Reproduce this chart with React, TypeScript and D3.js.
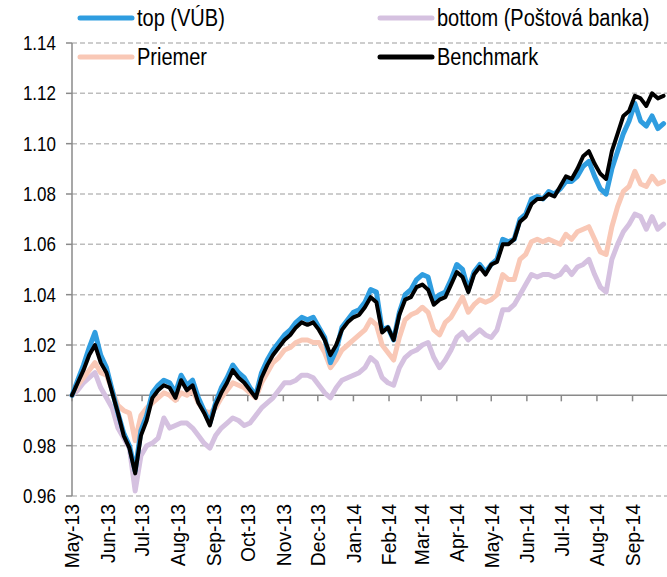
import React from "react";
import * as d3 from "d3";

// sampling: every 5 days from 1 May 2013
const dates = d3.timeDay.range(new Date(2013, 4, 1), new Date(2014, 8, 30), 5);

const topVub = [
  1.000, 1.006, 1.012, 1.019, 1.025, 1.016, 1.011, 1.002, 0.993, 0.985,
  0.980, 0.970, 0.986, 0.992, 1.001, 1.004, 1.006, 1.005, 1.001, 1.008,
  1.004, 1.006, 0.999, 0.994, 0.989, 0.997, 1.003, 1.007, 1.012, 1.009,
  1.007, 1.003, 1.000, 1.009, 1.014, 1.018, 1.021, 1.024, 1.026, 1.029,
  1.031, 1.030, 1.031, 1.027, 1.023, 1.013, 1.018, 1.027, 1.030, 1.033,
  1.034, 1.037, 1.042, 1.041, 1.026, 1.027, 1.022, 1.033, 1.040, 1.042,
  1.046, 1.048, 1.047, 1.038, 1.040, 1.041, 1.046, 1.052, 1.050, 1.042,
  1.049, 1.052, 1.049, 1.052, 1.054, 1.062, 1.061, 1.062, 1.070, 1.072,
  1.078, 1.079, 1.078, 1.081, 1.080, 1.082, 1.085, 1.085, 1.087, 1.091,
  1.093, 1.087, 1.082, 1.080, 1.090, 1.097, 1.104, 1.109, 1.116, 1.109,
  1.107, 1.111, 1.106, 1.108,
];

const bottomPb = [
  1.000, 1.002, 1.005, 1.007, 1.009, 1.003, 0.999, 0.995, 0.987, 0.983,
  0.979, 0.962, 0.976, 0.980, 0.981, 0.983, 0.991, 0.987, 0.988, 0.989,
  0.989, 0.987, 0.984, 0.981, 0.979, 0.984, 0.987, 0.989, 0.991, 0.990,
  0.988, 0.989, 0.992, 0.995, 0.997, 0.999, 1.002, 1.005, 1.005, 1.006,
  1.008, 1.008, 1.007, 1.004, 1.001, 0.999, 1.003, 1.006, 1.007, 1.008,
  1.009, 1.011, 1.015, 1.013, 1.007, 1.005, 1.004, 1.011, 1.015, 1.017,
  1.018, 1.020, 1.021, 1.015, 1.011, 1.014, 1.018, 1.023, 1.025, 1.022,
  1.024, 1.026, 1.024, 1.023, 1.026, 1.034, 1.034, 1.036, 1.040, 1.044,
  1.048, 1.047, 1.048, 1.048, 1.047, 1.048, 1.051, 1.048, 1.051, 1.052,
  1.054, 1.048, 1.043, 1.041, 1.054, 1.060, 1.065, 1.068, 1.072, 1.071,
  1.066, 1.071, 1.066, 1.068,
];

const priemer = [
  1.000, 1.004, 1.007, 1.010, 1.013, 1.009, 1.008, 1.002, 0.996, 0.994,
  0.993, 0.982, 0.992, 0.995, 0.997, 0.999, 1.001, 1.000, 0.998, 1.001,
  1.000, 1.002, 0.997, 0.994, 0.993, 0.995, 0.999, 1.002, 1.005, 1.004,
  1.003, 1.001, 0.999, 1.005, 1.009, 1.013, 1.015, 1.018, 1.019, 1.021,
  1.022, 1.022, 1.021, 1.021, 1.017, 1.011, 1.014, 1.018, 1.020, 1.022,
  1.024, 1.026, 1.030, 1.028, 1.020, 1.017, 1.014, 1.023, 1.030, 1.032,
  1.033, 1.035, 1.033, 1.026, 1.024, 1.029, 1.031, 1.035, 1.039, 1.033,
  1.036, 1.038, 1.037, 1.038, 1.040, 1.048, 1.046, 1.046, 1.054, 1.056,
  1.061, 1.062, 1.061, 1.062, 1.061, 1.060, 1.064, 1.062, 1.065, 1.066,
  1.067, 1.062, 1.057, 1.056, 1.067, 1.075, 1.081, 1.083, 1.089, 1.084,
  1.083, 1.087, 1.084, 1.085,
];

const benchmark = [
  1.000, 1.005, 1.010, 1.016, 1.020, 1.013, 1.009, 1.001, 0.993, 0.984,
  0.979, 0.969, 0.984, 0.990, 0.999, 1.002, 1.004, 1.003, 0.999, 1.006,
  1.002, 1.004, 0.997, 0.993, 0.988, 0.996, 1.001, 1.005, 1.010, 1.007,
  1.005, 1.002, 0.999, 1.007, 1.012, 1.016, 1.019, 1.022, 1.024, 1.027,
  1.029, 1.028, 1.029, 1.026, 1.022, 1.016, 1.020, 1.026, 1.029, 1.031,
  1.032, 1.035, 1.039, 1.037, 1.025, 1.027, 1.022, 1.032, 1.038, 1.039,
  1.043, 1.044, 1.042, 1.036, 1.038, 1.039, 1.044, 1.049, 1.047, 1.041,
  1.048, 1.051, 1.048, 1.052, 1.053, 1.060, 1.060, 1.062, 1.069, 1.071,
  1.076, 1.078, 1.078, 1.080, 1.079, 1.083, 1.087, 1.086, 1.090, 1.095,
  1.097, 1.092, 1.088, 1.086, 1.097, 1.104, 1.111, 1.113, 1.119, 1.118,
  1.115, 1.120, 1.118, 1.119,
];

const yTicks = [0.96, 0.98, 1.0, 1.02, 1.04, 1.06, 1.08, 1.1, 1.12, 1.14];

const series = [
  { name: "bottom (Poštová banka)", values: bottomPb, color: "#d5c1e0", width: 5 },
  { name: "Priemer", values: priemer, color: "#f9c8b6", width: 5 },
  { name: "top (VÚB)", values: topVub, color: "#2f9de0", width: 5 },
  { name: "Benchmark", values: benchmark, color: "#000000", width: 4 },
];

const legendItems = [
  { name: "top (VÚB)", color: "#2f9de0", col: 0, row: 0 },
  { name: "bottom (Poštová banka)", color: "#d5c1e0", col: 1, row: 0 },
  { name: "Priemer", color: "#f9c8b6", col: 0, row: 1 },
  { name: "Benchmark", color: "#000000", col: 1, row: 1 },
];

const W = 667;
const H = 577;
const left = 72;
const right = 667;
const top = 43;
const bottom = 496;
const font = "'Liberation Sans', Arial, sans-serif";

export default function App() {
  const x = d3
    .scaleTime()
    .domain([new Date(2013, 4, 1), new Date(2014, 9, 1)])
    .range([left, right]);
  const y = d3.scaleLinear().domain([0.96, 1.14]).range([bottom, top]);

  const months = d3.timeMonth.range(new Date(2013, 4, 1), new Date(2014, 9, 1));
  const fmt = d3.timeFormat("%b-%y");

  const line = (vals: number[]) =>
    d3
      .line<number>()
      .x((_, i) => x(dates[i]))
      .y((v) => y(v))(vals.slice(0, dates.length)) ?? "";

  return (
    <svg
      width={W}
      height={H}
      style={{ position: "absolute", left: 0, top: 0, background: "#fff" }}
      fontFamily={font}
    >
      {/* grid */}
      {yTicks.map((t) =>
        t === 1.0 ? null : (
          <line
            key={t}
            x1={left}
            x2={right}
            y1={y(t)}
            y2={y(t)}
            stroke="#bdbdbd"
            strokeWidth={1.5}
            strokeDasharray="5,3"
          />
        )
      )}
      {/* y axis */}
      <line x1={left} x2={left} y1={top} y2={bottom} stroke="#8a8a8a" strokeWidth={1.5} />
      {yTicks.map((t) => (
        <g key={t} transform={`translate(0,${y(t)})`}>
          <line x1={left - 6} x2={left} stroke="#8a8a8a" strokeWidth={1.5} />
          <text
            transform="translate(56,0) scale(0.85,1)"
            dy="0.35em"
            textAnchor="end"
            fontSize={20}
            fill="#000"
          >
            {t.toFixed(2)}
          </text>
        </g>
      ))}
      {/* x axis at 1.00 */}
      <line x1={left} x2={right} y1={y(1)} y2={y(1)} stroke="#8a8a8a" strokeWidth={1.5} />
      {months.map((m) => (
        <line key={+m} x1={x(m)} x2={x(m)} y1={y(1)} y2={y(1) + 6} stroke="#8a8a8a" strokeWidth={1.5} />
      ))}
      {months.map((m) => (
        <text
          key={+m}
          transform={`translate(${x(m)},${bottom + 8}) rotate(-90) scale(0.92,1)`}
          textAnchor="end"
          dy="0.35em"
          fontSize={21}
          fill="#000"
        >
          {fmt(m)}
        </text>
      ))}
      {/* series */}
      {series.map((s) => (
        <path
          key={s.name}
          d={line(s.values)}
          fill="none"
          stroke={s.color}
          strokeWidth={s.width}
          strokeLinejoin="round"
          strokeLinecap="round"
        />
      ))}
      {/* legend */}
      {legendItems.map((l) => {
        const lx = l.col === 0 ? 80 : 380;
        const ly = l.row === 0 ? 18 : 57;
        return (
          <g key={l.name}>
            <line
              x1={lx}
              x2={lx + 52}
              y1={ly}
              y2={ly}
              stroke={l.color}
              strokeWidth={5}
              strokeLinecap="round"
            />
            <text
              transform={`translate(${lx + 57},${ly}) scale(0.87,1)`}
              dy="0.35em"
              fontSize={23}
              fill="#000"
            >
              {l.name}
            </text>
          </g>
        );
      })}
    </svg>
  );
}
